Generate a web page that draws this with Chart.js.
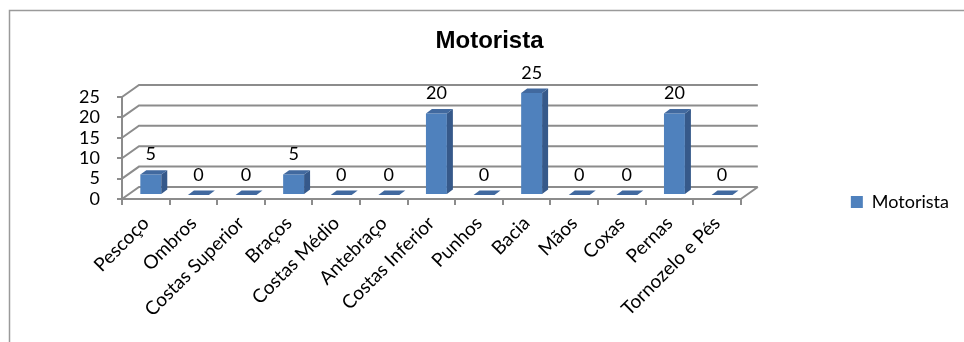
<!DOCTYPE html>
<html>
<head>
<meta charset="utf-8">
<script src="https://cdn.jsdelivr.net/npm/chart.js@4/dist/chart.umd.min.js"></script>
<style>
html,body{margin:0;padding:0;background:#fff;}
#wrap{width:964px;height:342px;position:relative;}
</style>
</head>
<body>
<div id="wrap"><canvas id="chart"></canvas></div>
<script>
// ─── DATA ───────────────────────────────────────────────────────────
const categories=['Pescoço','Ombros','Costas Superior','Braços','Costas Médio','Antebraço','Costas Inferior','Punhos','Bacia','Mãos','Coxas','Pernas','Tornozelo e Pés'];
const motorista=[5,0,0,5,0,0,20,0,25,0,0,20,0];
const yTicks=[0,5,10,15,20,25];

// ─── 3D LOOK ────────────────────────────────────────────────────────
const GRID='#8c8c8c';
const DEPTH={x:17,y:-12};     // back wall offset
const SHIFT={x:5,y:-4};       // bar front face sits inside the box
const BDEPTH={x:6,y:-4.4};    // bar depth
const FRONT='#4f81bd', SIDE='#36598a', TOP='#41699f';

const frame3d={
  id:'frame3d',
  beforeDraw(chart){
    const ctx=chart.ctx;
    ctx.save();
    ctx.fillStyle='#fff';ctx.fillRect(0,0,chart.width,chart.height);
    ctx.strokeStyle='#9a9a9a';ctx.lineWidth=1.5;
    ctx.beginPath();ctx.moveTo(9.5,chart.height+5);ctx.lineTo(9.5,10.5);ctx.lineTo(chart.width+5,10.5);ctx.stroke();
    ctx.restore();
  },
  beforeDatasetsDraw(chart){
    const {ctx,chartArea:a,scales:{y}}=chart;
    ctx.save();
    ctx.strokeStyle=GRID;ctx.lineWidth=2;
    ctx.beginPath();
    yTicks.forEach(v=>{
      const py=y.getPixelForValue(v);
      ctx.moveTo(a.left,py);ctx.lineTo(a.left+DEPTH.x,py+DEPTH.y);ctx.lineTo(a.right+DEPTH.x,py+DEPTH.y);
    });
    ctx.moveTo(a.right,a.bottom);ctx.lineTo(a.right+DEPTH.x,a.bottom+DEPTH.y);
    ctx.stroke();
    ctx.restore();
    // front faces are drawn by Chart.js, pushed into the box
    ctx.save();
    ctx.translate(SHIFT.x,SHIFT.y);
  },
  afterDatasetsDraw(chart){
    const ctx=chart.ctx;
    ctx.restore();
    const meta=chart.getDatasetMeta(0);
    const vals=chart.data.datasets[0].data;
    ctx.save();
    meta.data.forEach((el,i)=>{
      const l=el.x-el.width/2+SHIFT.x, r=el.x+el.width/2+SHIFT.x;
      const t=el.y+SHIFT.y, b=el.base+SHIFT.y;
      ctx.fillStyle=SIDE;
      ctx.beginPath();ctx.moveTo(r,t);ctx.lineTo(r+BDEPTH.x,t+BDEPTH.y);ctx.lineTo(r+BDEPTH.x,b+BDEPTH.y);ctx.lineTo(r,b);ctx.closePath();ctx.fill();
      ctx.fillStyle=TOP;
      ctx.beginPath();ctx.moveTo(l,t);ctx.lineTo(r,t);ctx.lineTo(r+BDEPTH.x,t+BDEPTH.y);ctx.lineTo(l+BDEPTH.x,t+BDEPTH.y);ctx.closePath();ctx.fill();
      ctx.fillStyle='#000';ctx.font='18px Lato';ctx.textAlign='center';ctx.textBaseline='middle';
      ctx.fillText(String(vals[i]),(l+r)/2,t-20);
    });
    ctx.restore();
  }
};

// ─── CHART ──────────────────────────────────────────────────────────
new Chart(document.getElementById('chart'),{
  type:'bar',
  data:{labels:categories,datasets:[{label:'Motorista',data:motorista,backgroundColor:FRONT,borderWidth:0,barPercentage:0.44,categoryPercentage:1}]},
  options:{
    responsive:true,maintainAspectRatio:false,animation:false,
    layout:{padding:{left:20,right:5,top:0,bottom:-62}},
    plugins:{
      tooltip:{enabled:false},
      title:{display:true,text:'Motorista',color:'#000',font:{family:'Liberation Sans',size:24,weight:'bold'},padding:{top:26.6,bottom:41.6}},
      legend:{position:'right',align:'center',labels:{color:'#000',font:{family:'Lato',size:18},boxWidth:12,boxHeight:12,padding:110}}
    },
    scales:{
      x:{
        grid:{display:true,offset:true,drawOnChartArea:false,tickLength:6,color:GRID,lineWidth:2},
        border:{display:true,color:GRID,width:2},
        ticks:{color:'#000',font:{family:'Lato',size:19},minRotation:45,maxRotation:45,autoSkip:false,padding:7},
        afterFit:s=>{s.height=205;}
      },
      y:{
        min:0,max:25,
        grid:{display:true,drawOnChartArea:false,tickLength:5,color:GRID,lineWidth:2},
        border:{display:true,color:GRID,width:2},
        ticks:{stepSize:5,autoSkip:false,color:'#000',font:{family:'Lato',size:18},padding:17},
        afterFit:s=>{s.width=102;}
      }
    }
  },
  plugins:[frame3d]
});
</script>
</body>
</html>
